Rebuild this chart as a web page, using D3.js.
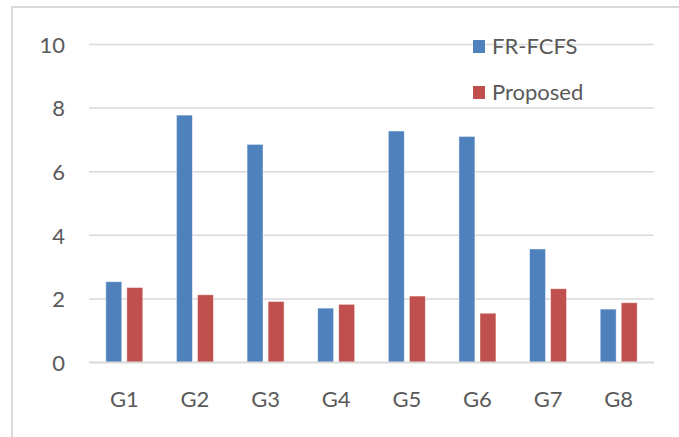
<!DOCTYPE html>
<html>
<head>
<meta charset="utf-8">
<script src="https://cdn.jsdelivr.net/npm/d3@7"></script>
<style>
  html, body { margin: 0; padding: 0; background: #fff; }
  svg { display: block; }
  text { font-family: Lato, "Open Sans", sans-serif; fill: #595959; }
</style>
</head>
<body>
<div id="chart"></div>
<script>
// Groups and per-group values for the two schedulers
const categories = ["G1", "G2", "G3", "G4", "G5", "G6", "G7", "G8"];
const seriesNames = ["FR-FCFS", "Proposed"];
const frfcfs   = [2.54, 7.78, 6.86, 1.71, 7.28, 7.11, 3.57, 1.68];
const proposed = [2.36, 2.13, 1.92, 1.83, 2.09, 1.55, 2.32, 1.88];
const yTicks = [0, 2, 4, 6, 8, 10];
const colors = ["#4f81bd", "#c0504d"];

const W = 679, H = 437;
const margin = { left: 89, right: 25, top: 44.5, bottom: 74.5 };
const plotW = W - margin.left - margin.right;
const plotH = H - margin.top - margin.bottom;
const fontSize = "22px";

const svg = d3.select("#chart").append("svg")
  .attr("width", W).attr("height", H);

// outer chart frame (runs off the right and bottom edges)
svg.append("rect")
  .attr("x", 12).attr("y", 7)
  .attr("width", W + 20).attr("height", H + 20)
  .attr("fill", "none").attr("stroke", "#d9d9d9").attr("stroke-width", 2);

const g = svg.append("g").attr("transform", `translate(${margin.left},${margin.top})`);

const x0 = d3.scaleBand().domain(categories).range([0, plotW]).paddingInner(0.476).paddingOuter(0.238);
const x1 = d3.scaleBand().domain(seriesNames).range([0, x0.bandwidth()]).paddingInner(0.24);
const y = d3.scaleLinear().domain([0, 10]).range([plotH, 0]);

// horizontal gridlines
g.append("g").selectAll("line").data(yTicks.filter(t => t > 0)).join("line")
  .attr("x1", 0).attr("x2", plotW)
  .attr("y1", d => y(d)).attr("y2", d => y(d))
  .attr("stroke", "#d9d9d9").attr("stroke-width", 1.5);

// y axis labels
const yAxis = g.append("g").call(d3.axisLeft(y).tickValues(yTicks).tickSize(0).tickPadding(24).tickFormat(d3.format("d")));
yAxis.select(".domain").remove();
yAxis.selectAll("text").style("font-size", fontSize).attr("fill", "#595959").attr("dy", "0.35em");

// bars
const rows = categories.map((c, i) => ({ cat: c, vals: [frfcfs[i], proposed[i]] }));
const grp = g.append("g").selectAll("g").data(rows).join("g")
  .attr("transform", d => `translate(${x0(d.cat)},0)`);
grp.selectAll("rect").data(d => d.vals.map((v, k) => ({ name: seriesNames[k], v, k }))).join("rect")
  .attr("x", d => x1(d.name))
  .attr("width", x1.bandwidth())
  .attr("y", d => y(d.v))
  .attr("height", d => y(0) - y(d.v))
  .attr("fill", d => colors[d.k])
  .attr("stroke", "#ffffff").attr("stroke-opacity", 0.6).attr("stroke-width", 0.8);

// baseline
g.append("line").attr("x1", 0).attr("x2", plotW).attr("y1", y(0)).attr("y2", y(0))
  .attr("stroke", "#d9d9d9").attr("stroke-width", 2);

// x axis labels
const xAxis = g.append("g").attr("transform", `translate(0,${plotH})`)
  .call(d3.axisBottom(x0).tickSize(0).tickPadding(29));
xAxis.select(".domain").remove();
xAxis.selectAll("text").style("font-size", fontSize).attr("fill", "#595959");

// legend
const legend = svg.append("g").attr("transform", "translate(473,40)");
const li = legend.selectAll("g").data(seriesNames).join("g")
  .attr("transform", (d, i) => `translate(0,${i * 46})`);
li.append("rect").attr("width", 12).attr("height", 13).attr("fill", (d, i) => colors[i]);
li.append("text").attr("x", 19).attr("y", 6.5).attr("dy", "0.36em")
  .style("font-size", fontSize).text(d => d);
</script>
</body>
</html>
